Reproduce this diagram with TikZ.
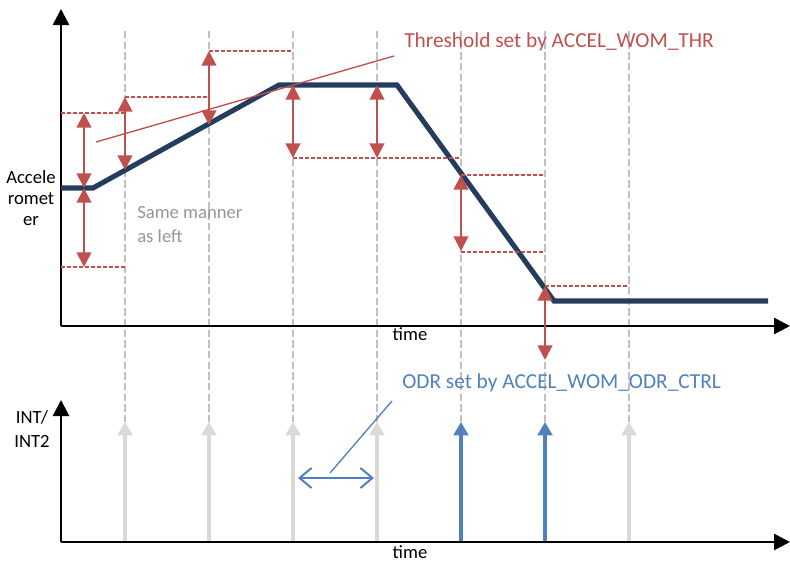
\documentclass[tikz,border=0pt]{standalone}
\usepackage{fontspec}
\setmainfont{Carlito}
\usetikzlibrary{arrows.meta}
\definecolor{navy}{RGB}{36,60,94}
\definecolor{tred}{RGB}{192,80,77}
\definecolor{gridgray}{RGB}{191,191,191}
\definecolor{pulsegray}{RGB}{217,217,217}
\definecolor{tblue}{RGB}{79,129,189}
\definecolor{txtgray}{RGB}{150,150,150}
\begin{document}
\begin{tikzpicture}[x=0.75pt,y=-0.75pt,
  font=\fontsize{14}{16}\selectfont,
  axis/.style={line width=2pt,-{Triangle[length=12pt,width=12pt]}},
  gridline/.style={draw=gridgray,line width=2.1pt,dash pattern=on 5.6pt off 2.4pt},
  thrline/.style={draw=tred,line width=1pt,dash pattern=on 3pt off 1.5pt},
  darr/.style={draw=tred,line width=1.5pt,{Triangle[length=11pt,width=11pt]}-{Triangle[length=11pt,width=11pt]}},
  signal/.style={draw=navy,line width=3.8pt,line join=miter},
  pulse/.style={line width=2.3pt,-{Triangle[length=10pt,width=11pt]}},
  lbl/.style={inner sep=0pt,align=center},
  biglbl/.style={inner sep=0pt,anchor=west,font=\fontsize{16}{18}\selectfont}]
\useasboundingbox (0,0) rectangle (790,564);
% grid lines
\foreach \x in {125,209,293,377,461,545,629}
  \draw[gridline] (\x,31) -- (\x,422);
% pulses
\foreach \x in {125,209,293,377,629}
  \draw[pulse,draw=pulsegray,fill=pulsegray] (\x,542) -- (\x,422);
\foreach \x in {461,545}
  \draw[pulse,draw=tblue,fill=tblue] (\x,542) -- (\x,422);
% axes
\draw[axis] (61,326) -- (61,9);
\draw[axis] (61,326) -- (790,326);
\draw[axis] (61,542) -- (61,400);
\draw[axis] (61,542) -- (790,542);
% signal
\coordinate (s0) at (61,188);
\coordinate (s1) at (93,188);
\coordinate (s2) at (279,85);
\coordinate (s3) at (397,85);
\coordinate (s4) at (554,301);
\coordinate (s5) at (768,301);
\draw[signal] (s0) -- (s1) -- (s2) -- (s3) -- (s4) -- (s5);
% threshold dashed lines
\draw[thrline] (61,113) -- (125,113);
\draw[thrline] (61,267) -- (125,267);
\draw[thrline] (125,97) -- (209,97);
\draw[thrline] (209,51) -- (293,51);
\draw[thrline] (293,158) -- (461,158);
\draw[thrline] (461,175) -- (545,175);
\draw[thrline] (461,252) -- (545,252);
\draw[thrline] (545,286) -- (629,286);
% double arrows
\draw[darr,fill=tred] (84,113) -- (84,188);
\draw[darr,fill=tred] (84,188) -- (84,267);
\draw[darr,fill=tred] (125,97) -- (125,170);
\draw[darr,fill=tred] (209,51) -- (209,125);
\draw[darr,fill=tred] (293,85) -- (293,158);
\draw[darr,fill=tred] (377,85) -- (377,158);
\draw[darr,fill=tred] (461,175) -- (461,251);
\draw[darr,fill=tred] (545,286) -- (545,360);
% threshold line
\draw[tred,line width=1pt] (96,142) -- (394,56);
% texts
\node[biglbl,text=tred] (thr) at (404,42) {Threshold set by ACCEL\_WOM\_THR};
\node[lbl] (acc) at (31,198) {Accele\\romet\\er};
\node[lbl,anchor=west,text=txtgray,font=\fontsize{14}{18}\selectfont,align=left] (same) at (137,225) {Same manner\\as left};
\node[lbl] (t1) at (410,334) {time};
\node[lbl] (t2) at (410,552) {time};
\node[lbl,font=\fontsize{14}{18}\selectfont] (int) at (32,429) {INT/\\INT2};
\node[biglbl,text=tblue] (odr) at (402,383) {ODR set by ACCEL\_WOM\_ODR\_CTRL};
% ODR period
\coordinate (pl) at (298,478);
\coordinate (pr) at (374,478);
\coordinate (lead0) at (330,473);
\coordinate (lead1) at (392,401);
\draw[tblue,line width=1.5pt,{Straight Barb[length=9pt,width=15pt]}-{Straight Barb[length=9pt,width=15pt]}] (pl) -- (pr);
\draw[tblue,line width=1pt] (lead0) -- (lead1);
\end{tikzpicture}
\end{document}
